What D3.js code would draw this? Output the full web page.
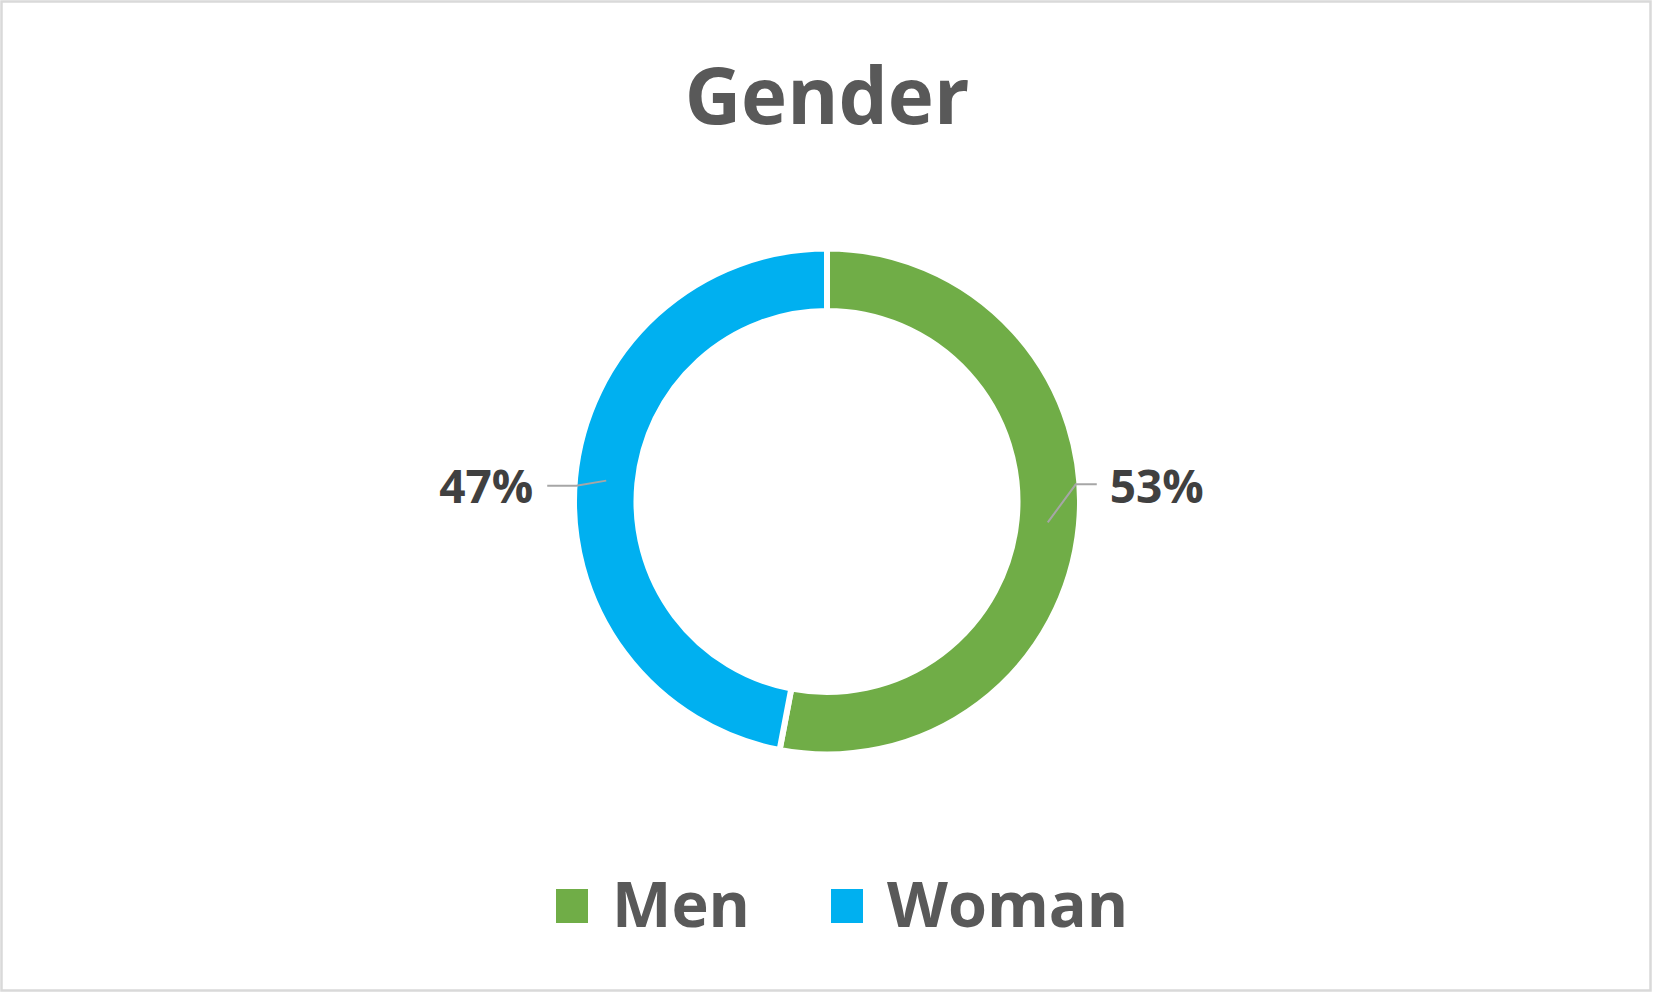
<!DOCTYPE html>
<html><head><meta charset="utf-8">
<script src="https://cdn.jsdelivr.net/npm/d3@7"></script>
<style>html,body{margin:0;padding:0;background:#fff;}svg{display:block;}</style>
</head><body>
<svg id="chart" width="1653" height="993"></svg>
<script>
const title = "Gender";
const categories = ["Men", "Woman"];
const values = [53, 47];
const colors = ["#70ad47", "#00b0f0"];

const svg = d3.select("#chart");
const W = 1653, H = 993;
const FONT = "'Open Sans', 'Noto Sans', sans-serif";

svg.append("rect").attr("x", 1.5).attr("y", 1.5).attr("width", W - 4).attr("height", H - 4)
  .attr("fill", "#fff").attr("stroke", "#d9d9d9").attr("stroke-width", 2.5);

svg.append("text").attr("x", 827).attr("y", 123.5).attr("text-anchor", "middle")
  .attr("font-family", FONT).attr("font-weight", 700).attr("font-size", 78)
  .attr("fill", "#595959").text(title);

const cx = 827, cy = 501.5, rOut = 253, rIn = 190.5;
const data = categories.map((c, i) => ({ name: c, value: values[i], color: colors[i] }));
const pie = d3.pie().value(d => d.value).sort(null).startAngle(0).endAngle(2 * Math.PI);
const arc = d3.arc().innerRadius(rIn).outerRadius(rOut);
const arcs = pie(data);
const g = svg.append("g").attr("transform", `translate(${cx},${cy})`);
g.selectAll("path").data(arcs).join("path")
  .attr("d", arc).attr("fill", d => d.data.color)
  .attr("stroke", "#fff").attr("stroke-width", 6).attr("stroke-linejoin", "miter");

// leader lines and labels
const total = d3.sum(values);
arcs.forEach((a, i) => {
  const [x0, y0] = arc.centroid(a);
  const right = x0 > 0;
  let pts, tx, ty = 503, anchor;
  if (right) {
    pts = [[x0, y0], [x0 + 28, y0 - 38], [x0 + 49, y0 - 38]];
    tx = x0 + 62; anchor = "start";
  } else {
    pts = [[x0, y0], [x0 - 30, y0 + 5], [x0 - 59, y0 + 5]];
    tx = x0 - 73; anchor = "end";
  }
  g.append("path").attr("d", d3.line()(pts)).attr("fill", "none")
    .attr("stroke", "#a6a6a6").attr("stroke-width", 2);
  g.append("text").attr("x", tx).attr("y", ty - cy).attr("text-anchor", anchor)
    .attr("font-family", FONT).attr("font-weight", 700).attr("font-size", 46)
    .attr("fill", "#404040").text(Math.round(values[i] / total * 100) + "%");
});

// legend
const legendX = [556, 831];
const leg = svg.append("g");
data.forEach((d, i) => {
  leg.append("rect").attr("x", legendX[i]).attr("y", 889).attr("width", 32).attr("height", 34)
    .attr("fill", d.color);
  leg.append("text").attr("x", legendX[i] + 56).attr("y", 927)
    .attr("font-family", FONT).attr("font-weight", 700).attr("font-size", 63)
    .attr("fill", "#595959").text(d.name);
});
</script>
</body></html>
